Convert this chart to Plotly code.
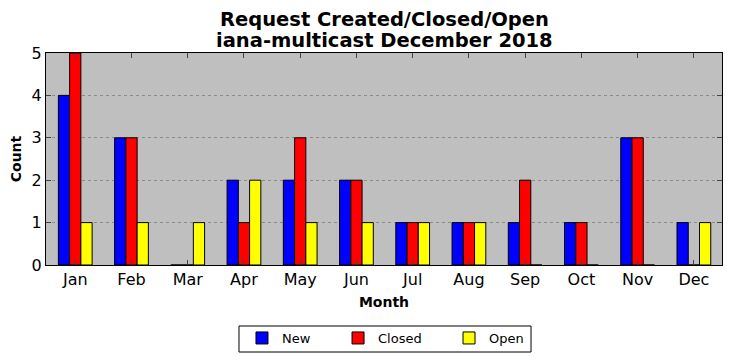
import plotly.graph_objects as go

months = ["Jan", "Feb", "Mar", "Apr", "May", "Jun", "Jul", "Aug", "Sep", "Oct", "Nov", "Dec"]
new_vals = [4, 3, 0, 2, 2, 2, 1, 1, 1, 1, 3, 1]
closed_vals = [5, 3, 0, 1, 3, 2, 1, 1, 2, 1, 3, 0]
open_vals = [1, 1, 1, 2, 1, 1, 1, 1, 0, 0, 0, 1]

x = list(range(len(months)))
series = [("New", new_vals, "#0000ff", "legend"),
          ("Closed", closed_vals, "#ff0000", "legend2"),
          ("Open", open_vals, "#ffff00", "legend3")]
fig = go.Figure()
for name, vals, col, lg in series:
    fig.add_trace(go.Bar(x=x, y=vals, name=name, legend=lg, showlegend=True,
                         marker=dict(color=col, line=dict(color="black", width=1))))

leg_y = -0.2736
leg_common = dict(orientation="h", xanchor="left", y=leg_y, yanchor="top",
                  borderwidth=0, bgcolor="rgba(0,0,0,0)", font=dict(size=13), visible=True)

fig.update_layout(
    width=716, height=345, showlegend=True,
    barmode="group", bargap=0.4, bargroupgap=0,
    plot_bgcolor="#bfbfbf", paper_bgcolor="white",
    font=dict(family="DejaVu Sans", color="black"),
    margin=dict(l=38, r=2, t=45, b=88, autoexpand=False),
    legend=dict(x=0.2899, **leg_common),
    legend2=dict(x=0.4320, **leg_common),
    legend3=dict(x=0.5962, **leg_common),
    shapes=[dict(type="rect", xref="paper", yref="paper", x0=0.2855, x1=0.7175, y0=-0.2877, y1=-0.4104,
                 line=dict(color="black", width=1), fillcolor="rgba(0,0,0,0)", layer="below")],
    annotations=[
        dict(text="<b>Request Created/Closed/Open</b>", xref="paper", yref="paper", x=0.5, y=1.0,
             yshift=34, xanchor="center", yanchor="middle", showarrow=False, font=dict(size=19.5)),
        dict(text="<b>iana-multicast December 2018</b>", xref="paper", yref="paper", x=0.5, y=1.0,
             yshift=13, xanchor="center", yanchor="middle", showarrow=False, font=dict(size=19.5)),
    ],
)
fig.update_xaxes(range=[-0.52, 11.5], tickvals=x, ticktext=months, ticks="inside", ticklen=5,
                 showline=True, linecolor="black", linewidth=1, mirror="ticks", showgrid=False,
                 automargin=False,
                 tickfont=dict(size=16), title=dict(text="<b>Month</b>", font=dict(size=14), standoff=8))
fig.update_yaxes(range=[0, 5], dtick=1, ticks="inside", ticklen=5,
                 showline=True, linecolor="black", linewidth=1, mirror="ticks", automargin=False,
                 showgrid=True, gridcolor="#8a8a8a", griddash="dot", gridwidth=1, zeroline=False,
                 tickfont=dict(size=16), title=dict(text="<b>Count</b>", font=dict(size=14), standoff=6))
fig.write_html("out.html")
